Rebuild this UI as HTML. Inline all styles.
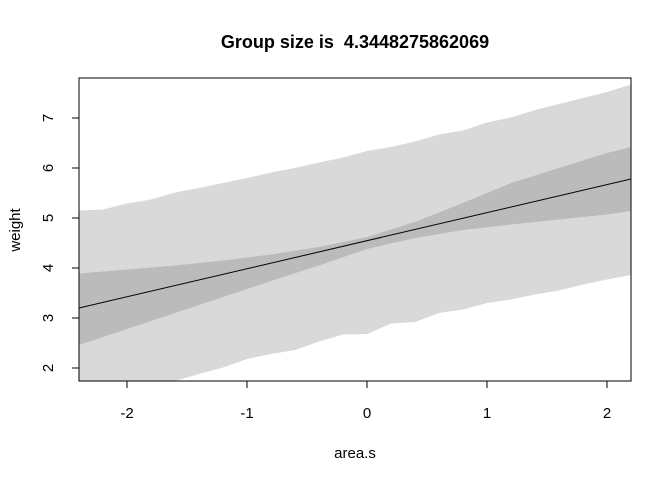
<!DOCTYPE html>
<html><head><meta charset="utf-8"><style>
body{margin:0;background:#fff;}
svg{display:block;font-family:"Liberation Sans",Arial,sans-serif;}
</style></head><body>
<svg id="chart" width="672" height="480" viewBox="0 0 672 480">
<defs><clipPath id="plotclip"><rect x="79" y="78" width="552" height="303"/></clipPath></defs>
<text x="355" y="48" text-anchor="middle" font-size="18" font-weight="bold">Group size is &#160;4.3448275862069</text>
<g id="bands" clip-path="url(#plotclip)"></g>
<rect x="79" y="78" width="552" height="303" fill="none" stroke="#000" stroke-width="1"/>
<g id="axes"></g>
<text x="355" y="458" text-anchor="middle" font-size="15">area.s</text>
<text transform="translate(20,230) rotate(-90)" text-anchor="middle" font-size="15">weight</text>
</svg>
<script>
const gridX = [-2.4,-2.2,-2.0,-1.8,-1.6,-1.4,-1.2,-1.0,-0.8,-0.6,-0.4,-0.2,0,0.2,0.4,0.6,0.8,1.0,1.2,1.4,1.6,1.8,2.0,2.2];
const predUpper = [5.15,5.17,5.29,5.37,5.51,5.60,5.70,5.80,5.91,6.00,6.11,6.21,6.34,6.42,6.53,6.67,6.75,6.91,7.01,7.16,7.28,7.40,7.52,7.67];
const predLower = [1.25,1.40,1.55,1.63,1.74,1.88,2.01,2.18,2.28,2.36,2.53,2.67,2.68,2.89,2.92,3.10,3.17,3.30,3.37,3.47,3.55,3.67,3.77,3.86];
const muX = [-2.4,-2.0,-1.6,-1.2,-0.8,-0.4,0,0.4,0.8,1.2,1.6,2.0,2.2];
const muUpper = [3.89,3.97,4.05,4.15,4.27,4.42,4.62,4.92,5.30,5.70,6.00,6.30,6.42];
const muLower = [2.46,2.78,3.10,3.42,3.74,4.05,4.38,4.60,4.76,4.87,4.97,5.07,5.14];
const lineX = [-2.4,2.2];
const lineY = [3.20,5.78];
const xTicks = [-2,-1,0,1,2];
const yTicks = [2,3,4,5,6,7];

const sx = v => 367 + v*120;
const sy = v => 368 - (v-2)*50;
const NS = "http://www.w3.org/2000/svg";
const bands = document.getElementById('bands');
const axes = document.getElementById('axes');

function band(xs, lo, hi, fill, name){
  let pts = xs.map((x,i)=>sx(x)+','+sy(hi[i]));
  pts = pts.concat(xs.slice().reverse().map((x,i)=>sx(x)+','+sy(lo[xs.length-1-i])));
  const p = document.createElementNS(NS,'polygon');
  p.setAttribute('points', pts.join(' '));
  p.setAttribute('fill', fill);
  
  
  bands.appendChild(p);
}
band(gridX, predLower, predUpper, '#d9d9d9', 'prediction-interval');
band(muX, muLower, muUpper, '#bbbbbb', 'mean-interval');
const ln = document.createElementNS(NS,'polyline');
ln.setAttribute('points', lineX.map((x,i)=>sx(x)+','+sy(lineY[i])).join(' '));
ln.setAttribute('fill','none'); ln.setAttribute('stroke','#000'); ln.setAttribute('stroke-width','1');


bands.appendChild(ln);

xTicks.forEach(t=>{
  const l = document.createElementNS(NS,'line');
  l.setAttribute('x1',sx(t)); l.setAttribute('x2',sx(t)); l.setAttribute('y1',381); l.setAttribute('y2',388);
  l.setAttribute('stroke','#000');
  
  
  axes.appendChild(l);
  const tx = document.createElementNS(NS,'text');
  tx.setAttribute('x',sx(t)); tx.setAttribute('y',418); tx.setAttribute('text-anchor','middle'); tx.setAttribute('font-size','15');
  tx.textContent = t;
  
  
  axes.appendChild(tx);
});
yTicks.forEach(t=>{
  const l = document.createElementNS(NS,'line');
  l.setAttribute('x1',72); l.setAttribute('x2',79); l.setAttribute('y1',sy(t)); l.setAttribute('y2',sy(t));
  l.setAttribute('stroke','#000');
  
  
  axes.appendChild(l);
  const tx = document.createElementNS(NS,'text');
  tx.setAttribute('transform','translate(53,'+sy(t)+') rotate(-90)');
  tx.setAttribute('text-anchor','middle'); tx.setAttribute('font-size','15');
  tx.textContent = t;
  
  
  axes.appendChild(tx);
});
</script>
</body></html>
